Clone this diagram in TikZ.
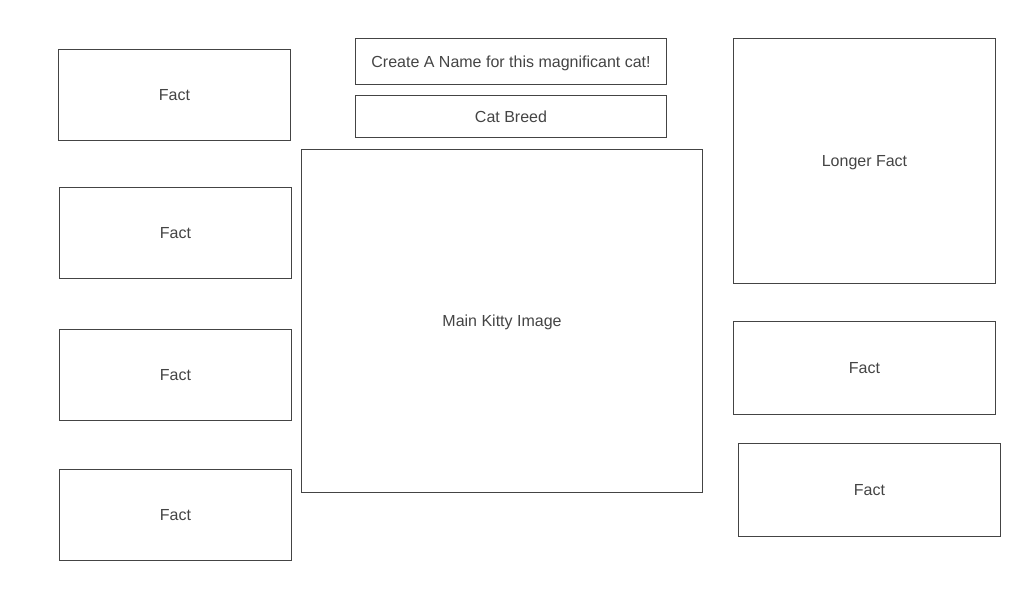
\documentclass[tikz,border=0pt]{standalone}
\usepackage{fontspec}
\setmainfont{Liberation Sans}
\usepackage{tikz}
\usetikzlibrary{positioning}
\definecolor{boxline}{HTML}{444444}
\definecolor{boxtext}{HTML}{444444}
\tikzset{
  box/.style={draw=boxline, line width=1pt, text=boxtext, inner sep=0pt,
    text depth=0pt, font=\fontsize{16}{19}\selectfont},
}
\newcommand{\wbox}[6]{% name, x1, y1, x2, y2, text
  \node[box, minimum width=#4pt-#2pt, minimum height=#5pt-#3pt]
    (#1) at ({(#2+#4)/2}, {(#3+#5)/2}) {#6};}

\begin{document}
\begin{tikzpicture}[x=1pt, y=-1pt]
\useasboundingbox (0,0) rectangle (1024,600);
% left column
\wbox{factA}{58.5}{49.5}{290.5}{140.5}{Fact}
\wbox{factB}{59.5}{187.5}{291.5}{278.5}{Fact}
\wbox{factC}{59.5}{329.5}{291.5}{420.5}{Fact}
\wbox{factD}{59.5}{469.5}{291.5}{560.5}{Fact}
% middle column
\wbox{catname}{355.5}{38.5}{666.5}{84.5}{Create A Name for this magnificant cat!}
\wbox{breed}{355.5}{95.5}{666.5}{137.5}{Cat Breed}
\wbox{kitty}{301.5}{149.5}{702.5}{492.5}{Main Kitty Image}
% right column
\wbox{longfact}{733.5}{38.5}{995.5}{283.5}{Longer Fact}
\wbox{factE}{733.5}{321.5}{995.5}{414.5}{Fact}
\wbox{factF}{738.5}{443.5}{1000.5}{536.5}{Fact}
\end{tikzpicture}
\end{document}
